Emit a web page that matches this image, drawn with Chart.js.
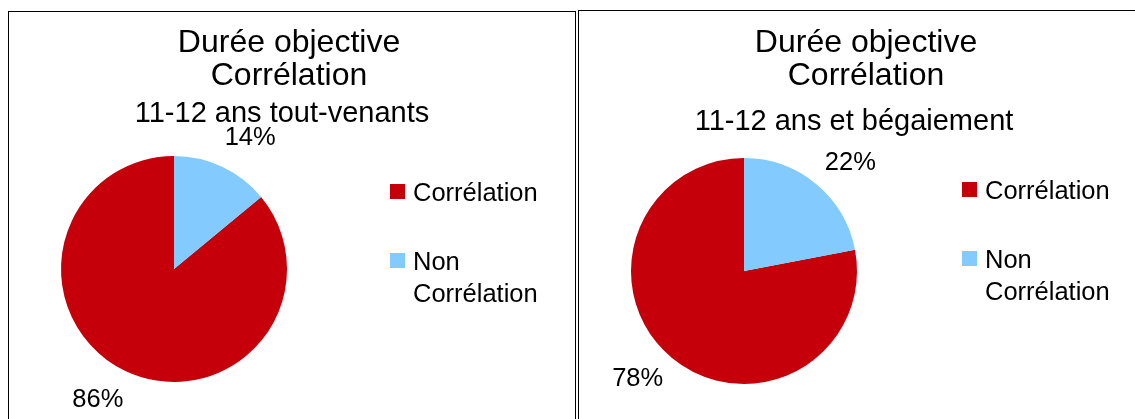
<!DOCTYPE html>
<html>
<head>
<meta charset="utf-8">
<script src="https://cdn.jsdelivr.net/npm/chart.js@4.4.0/dist/chart.umd.min.js"></script>
<style>
  body { margin: 0; background: #fff; overflow: hidden; }
  .panel { position: absolute; border: 1px solid #000; height: 440px; }
  #left { left: 8px; top: 11px; width: 566px; }
  #right { left: 578px; top: 10px; width: 600px; }
  canvas { display: block; }
</style>
</head>
<body>
<div class="panel" id="left"><canvas id="chartLeft" width="566" height="408"></canvas></div>
<div class="panel" id="right"><canvas id="chartRight" width="556" height="408"></canvas></div>

<script>
// shared categories and colours
const categories = ['Corrélation', 'Non Corrélation'];
const sliceColors = ['#c5000b', '#83caff'];
const titleLines = ['Durée objective', 'Corrélation'];

// percentages per group
const toutVenants = [86, 14];
const begaiement = [78, 22];
const subtitles = ['11-12 ans tout-venants', '11-12 ans et bégaiement'];

const FONT = '"Liberation Sans", Arial, sans-serif';

// titles, legend and outside % labels drawn on the chart canvas
const panelText = {
  id: 'panelText',
  afterDraw: function(chart, args, opts) {
    const ctx = chart.ctx;
    ctx.save();
    ctx.fillStyle = '#000';
    ctx.textAlign = 'center';
    ctx.textBaseline = 'alphabetic';

    ctx.font = '32px ' + FONT;
    titleLines.forEach(function(t, i) {
      ctx.fillText(t, opts.titleX, opts.titleY + i * 33);
    });
    ctx.font = '29px ' + FONT;
    ctx.fillText(opts.subtitle, opts.subX, opts.subY);

    // legend
    ctx.font = '25.5px ' + FONT;
    ctx.textAlign = 'left';
    const colors = chart.data.datasets[0].backgroundColor;
    chart.data.labels.forEach(function(label, i) {
      const y = opts.legendY + i * 69;
      ctx.fillStyle = colors[i];
      ctx.fillRect(opts.legendX, y - 17, 15, 15);
      ctx.fillStyle = '#000';
      label.split(' ').forEach(function(word, j) {
        ctx.fillText(word, opts.legendX + 23, y + j * 32);
      });
    });

    // % labels outside each slice
    const meta = chart.getDatasetMeta(0);
    const values = chart.data.datasets[0].data;
    const total = values.reduce(function(a, b) { return a + b; }, 0);
    ctx.textAlign = 'center';
    ctx.textBaseline = 'middle';
    meta.data.forEach(function(arc, i) {
      const p = arc.getProps(['x', 'y', 'startAngle', 'endAngle', 'outerRadius'], true);
      const a = (p.startAngle + p.endAngle) / 2 + 5 * Math.PI / 180;
      const r = p.outerRadius * 1.34;
      const pct = Math.round(values[i] / total * 100) + '%';
      ctx.fillText(pct, p.x + Math.cos(a) * r, p.y + Math.sin(a) * r);
    });
    ctx.restore();
  }
};

function makePie(canvasId, values, subtitle, padding, textOpts) {
  const total = values.reduce(function(a, b) { return a + b; }, 0);
  textOpts.subtitle = subtitle;
  // first slice runs anticlockwise from 12 o'clock
  const rotation = (total - values[0]) / total * 360;

  new Chart(document.getElementById(canvasId), {
    type: 'pie',
    data: {
      labels: categories,
      datasets: [{
        data: values,
        backgroundColor: sliceColors,
        borderWidth: 0,
        hoverOffset: 0
      }]
    },
    options: {
      responsive: false,
      animation: false,
      rotation: rotation,
      layout: { padding: padding },
      plugins: {
        legend: { display: false },
        tooltip: { enabled: false },
        title: { display: false },
        panelText: textOpts
      }
    },
    plugins: [panelText]
  });
}

makePie('chartLeft', toutVenants, subtitles[0],
  { left: 52, top: 144, right: 288, bottom: 38 },
  { titleX: 280, titleY: 40, subX: 273, subY: 110, legendX: 381, legendY: 189 });

makePie('chartRight', begaiement, subtitles[1],
  { left: 52, top: 147, right: 278, bottom: 35 },
  { titleX: 287, titleY: 41, subX: 275, subY: 119, legendX: 383, legendY: 188 });
</script>
</body>
</html>
